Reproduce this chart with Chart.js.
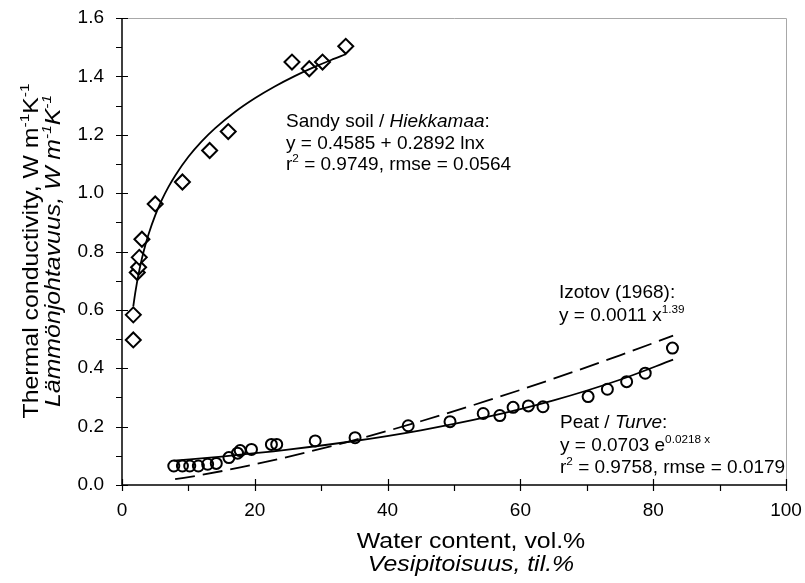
<!DOCTYPE html>
<html><head><meta charset="utf-8">
<script src="https://cdn.jsdelivr.net/npm/chart.js@4/dist/chart.umd.min.js"></script>
<style>html,body{margin:0;padding:0;background:#fff}#wrap{width:805px;height:583px;position:relative}</style>
</head><body><div id="wrap"><canvas id="c"></canvas></div>
<script>
// ---- data ----
const sandX = [1.7, 1.7, 2.3, 2.5, 2.6, 3.0, 5.0, 9.1, 13.2, 16.0, 25.6, 28.2, 30.2, 33.7];
const sandY = [0.497, 0.583, 0.728, 0.746, 0.780, 0.842, 0.963, 1.038, 1.146, 1.211, 1.449, 1.426, 1.449, 1.503];
const peatX = [7.8, 9.1, 10.2, 11.5, 12.9, 14.2, 16.1, 17.4, 17.8, 19.5, 22.5, 23.3, 29.1, 35.1, 43.1, 49.4, 54.4, 56.9, 58.9, 61.2, 63.4, 70.2, 73.1, 76.0, 78.8, 82.9];
const peatY = [0.065, 0.065, 0.065, 0.065, 0.071, 0.074, 0.094, 0.109, 0.118, 0.122, 0.139, 0.139, 0.151, 0.162, 0.203, 0.217, 0.245, 0.238, 0.266, 0.271, 0.268, 0.303, 0.328, 0.354, 0.383, 0.469];
// fitted equations as printed on the chart
const sandFit = {a: 0.4585, b: 0.2892};   // y = a + b ln x
const peatFit = {a: 0.0703, b: 0.0218};   // y = a e^(b x)
const izotovFit = {a: 0.0011, b: 1.39};   // y = a x^b
const sandCurveX = [1.7, 2, 2.5, 3, 3.5, 4, 5, 6, 7, 8, 10, 12, 14, 17, 20, 23, 26, 29, 31.5, 33.7];
const peatCurveX = [7.8, 15, 25, 35, 45, 55, 65, 75, 83];
const izotovCurveX = [8, 12, 18, 25, 35, 45, 55, 65, 75, 83];
const xTickVals = [0, 20, 40, 60, 80, 100];
const yTickVals = [0, 0.2, 0.4, 0.6, 0.8, 1.0, 1.2, 1.4, 1.6];

const FONT = '"Liberation Sans", Arial, sans-serif';
const pts = (xs, ys) => xs.map((x, i) => ({x, y: ys[i]}));
const sandCurve = sandCurveX.map(x => ({x, y: sandFit.a + sandFit.b * Math.log(x)}));
const peatCurve = peatCurveX.map(x => ({x, y: peatFit.a * Math.exp(peatFit.b * x)}));
const izotovCurve = izotovCurveX.map(x => ({x, y: izotovFit.a * Math.pow(x, izotovFit.b)}));

function richWidth(ctx, parts, size) {
  let w = 0;
  for (const p of parts) {
    const s = p.sup ? size * 0.62 : size;
    ctx.font = (p.it ? 'italic ' : '') + s + 'px ' + FONT;
    w += ctx.measureText(p.t).width;
  }
  return w;
}
// draws text runs starting at (x,y); sx = horizontal stretch
function drawRich(ctx, x, y, parts, size, align, sx) {
  sx = sx || 1;
  const w = richWidth(ctx, parts, size) * sx;
  const x0 = align === 'center' ? x - w / 2 : x;
  ctx.save();
  ctx.translate(x0, y);
  ctx.scale(sx, 1);
  ctx.textBaseline = 'alphabetic';
  ctx.textAlign = 'left';
  ctx.fillStyle = '#000';
  let cx = 0;
  for (const p of parts) {
    const s = p.sup ? size * 0.62 : size;
    ctx.font = (p.it ? 'italic ' : '') + s + 'px ' + FONT;
    ctx.fillText(p.t, cx, p.sup ? -size * 0.42 : 0);
    cx += ctx.measureText(p.t).width;
  }
  ctx.restore();
}

const deco = {
  id: 'deco',
  afterDraw(chart) {
    const ctx = chart.ctx, a = chart.chartArea;
    const xs = chart.scales.x, ys = chart.scales.y;
    ctx.save();
    // faint frame top/right
    ctx.strokeStyle = '#a8a8a8'; ctx.lineWidth = 1;
    ctx.beginPath();
    ctx.moveTo(a.left, a.top + 0.5); ctx.lineTo(a.right + 0.5, a.top + 0.5); ctx.lineTo(a.right + 0.5, a.bottom);
    ctx.stroke();
    // axes
    ctx.strokeStyle = '#000'; ctx.lineWidth = 1.5;
    ctx.beginPath();
    ctx.moveTo(a.left, a.top); ctx.lineTo(a.left, a.bottom); ctx.lineTo(a.right, a.bottom);
    ctx.stroke();
    ctx.lineWidth = 1.2;
    ctx.beginPath();
    for (let v = 0; v <= 1.6001; v += 0.1) {
      const py = Math.round(ys.getPixelForValue(v)) + 0.5;
      const major = Math.round(v * 10) % 2 === 0;
      ctx.moveTo(a.left - 6, py); ctx.lineTo(a.left + (major ? 6 : 0), py);
    }
    for (let v = 0; v <= 100; v += 10) {
      const px = Math.round(xs.getPixelForValue(v)) + 0.5;
      const major = v % 20 === 0;
      ctx.moveTo(px, a.bottom + 6); ctx.lineTo(px, a.bottom - (major ? 6 : 0));
    }
    ctx.stroke();

    // annotations
    const S = 19;
    drawRich(ctx, 286, 127, [{t: 'Sandy soil / '}, {t: 'Hiekkamaa', it: true}, {t: ':'}], S);
    drawRich(ctx, 286, 149, [{t: 'y = 0.4585 + 0.2892 lnx'}], S);
    drawRich(ctx, 286, 170, [{t: 'r'}, {t: '2', sup: true}, {t: ' = 0.9749, rmse = 0.0564'}], S);
    drawRich(ctx, 559, 298, [{t: 'Izotov (1968):'}], S);
    drawRich(ctx, 559, 321, [{t: 'y = 0.0011 x'}, {t: '1.39', sup: true}], S);
    drawRich(ctx, 560, 428, [{t: 'Peat / '}, {t: 'Turve', it: true}, {t: ':'}], S);
    drawRich(ctx, 560, 451, [{t: 'y = 0.0703 e'}, {t: '0.0218 x', sup: true}], S);
    drawRich(ctx, 560, 473, [{t: 'r'}, {t: '2', sup: true}, {t: ' = 0.9758, rmse = 0.0179'}], S);

    // axis titles
    const T = 22, SX = 1.13;
    drawRich(ctx, 471, 548, [{t: 'Water content, vol.%'}], T, 'center', SX);
    drawRich(ctx, 471, 571, [{t: 'Vesipitoisuus, til.%', it: true}], T, 'center', SX);
    ctx.save();
    ctx.rotate(-Math.PI / 2);
    drawRich(ctx, -251, 38, [{t: 'Thermal conductivity, W m'}, {t: '-1', sup: true}, {t: 'K'}, {t: '-1', sup: true}], T, 'center', SX);
    drawRich(ctx, -251, 60, [{t: 'Lämmönjohtavuus, W m', it: true}, {t: '-1', sup: true, it: true}, {t: 'K', it: true}, {t: '-1', sup: true, it: true}], T, 'center', SX);
    ctx.restore();
    ctx.restore();
  }
};

new Chart(document.getElementById('c'), {
  type: 'scatter',
  data: {
    datasets: [
      {label: 'Sandy soil fit', data: sandCurve, showLine: true, borderColor: '#000', borderWidth: 1.8, pointRadius: 0, cubicInterpolationMode: 'monotone'},
      {label: 'Peat fit', data: peatCurve, showLine: true, borderColor: '#000', borderWidth: 1.8, pointRadius: 0, cubicInterpolationMode: 'monotone'},
      {label: 'Izotov (1968)', data: izotovCurve, showLine: true, borderColor: '#000', borderWidth: 1.8, borderDash: [20, 8], pointRadius: 0, cubicInterpolationMode: 'monotone'},
      {label: 'Sandy soil', data: pts(sandX, sandY), pointStyle: 'rectRot', pointRadius: 7.5, borderColor: '#000', backgroundColor: '#fff', borderWidth: 2},
      {label: 'Peat', data: pts(peatX, peatY), pointStyle: 'circle', pointRadius: 5.5, borderColor: '#000', backgroundColor: 'rgba(255,255,255,0)', borderWidth: 2}
    ]
  },
  options: {
    responsive: true, maintainAspectRatio: false, animation: false,
    layout: {padding: {left: 0, right: 19, top: 18, bottom: 0}},
    plugins: {legend: {display: false}, tooltip: {enabled: false}},
    scales: {
      x: {
        type: 'linear', min: 0, max: 100,
        afterFit: s => { s.height = 98; s.paddingLeft = 0; s.paddingRight = 0; },
        afterBuildTicks: s => { s.ticks = xTickVals.map(v => ({value: v})); },
        grid: {display: false, drawTicks: false},
        border: {display: false},
        ticks: {padding: 14, color: '#000', font: {family: FONT, size: 19}, maxRotation: 0}
      },
      y: {
        type: 'linear', min: 0, max: 1.6,
        afterFit: s => { s.width = 122; s.paddingTop = 0; s.paddingBottom = 0; },
        afterBuildTicks: s => { s.ticks = yTickVals.map(v => ({value: v})); },
        grid: {display: false, drawTicks: false},
        border: {display: false},
        ticks: {padding: 18, color: '#000', font: {family: FONT, size: 19}, callback: v => Number(v).toFixed(1)}
      }
    }
  },
  plugins: [deco]
});
</script>
</body></html>
